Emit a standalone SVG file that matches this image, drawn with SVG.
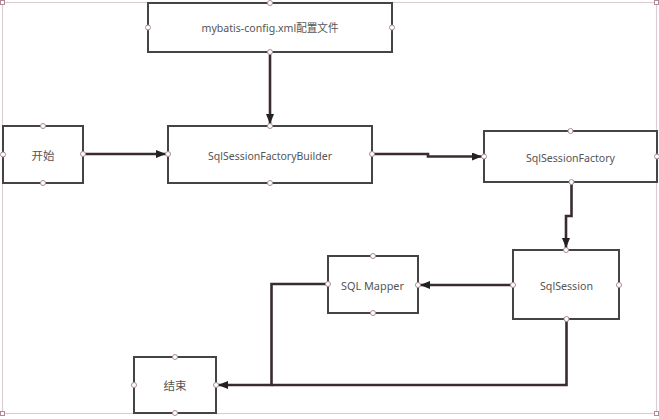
<svg xmlns="http://www.w3.org/2000/svg" width="659" height="419" viewBox="0 0 659 419">
<style>
.frame{fill:none;stroke:#dccdd1;stroke-width:1.2}
.corner{fill:#fff;stroke:#b08a94;stroke-width:1}
.box{fill:#fff;stroke:#444;stroke-width:2}
.lbl{font-family:"Noto Sans","Open Sans","Noto Sans CJK SC",sans-serif;font-size:11.5px;fill:#555;text-anchor:middle;dominant-baseline:central}
.h{fill:#fff;stroke:#a88a92;stroke-width:1}
.c{fill:none;stroke:#3a2c2e;stroke-width:2.6}
</style>
<defs>
<marker id="arr" viewBox="0 0 10 8" refX="10" refY="4" markerWidth="10" markerHeight="8" markerUnits="userSpaceOnUse" orient="auto">
<path d="M0,0 L10,4 L0,8 z" fill="#222"/>
</marker>
</defs>
<rect class="frame" x="2.5" y="2.5" width="654" height="411"/>
<g id="connectors">
<path class="c" d="M270,52 V124" marker-end="url(#arr)"/>
<path class="c" d="M83,154 H166" marker-end="url(#arr)"/>
<path class="c" d="M372,154 H428 V156.5 H482" marker-end="url(#arr)"/>
<path class="c" d="M571.5,182 V216 H566 V248" marker-end="url(#arr)"/>
<path class="c" d="M513,285 H420" marker-end="url(#arr)"/>
<path class="c" d="M328,284 H271.5 V385 H218" marker-end="url(#arr)"/>
<path class="c" d="M566.5,319 V385 H271.5"/>
</g>
<g id="config">
<rect class="box" x="148" y="3" width="244" height="49"/>
<text class="lbl" x="270" y="27.5" textLength="137" lengthAdjust="spacingAndGlyphs">mybatis-config.xml配置文件</text>
</g>
<g id="start">
<rect class="box" x="3" y="126" width="80" height="57"/>
<text class="lbl" x="43" y="155">开始</text>
</g>
<g id="builder">
<rect class="box" x="168" y="126" width="204" height="57"/>
<text class="lbl" x="270" y="155" textLength="124" lengthAdjust="spacingAndGlyphs">SqlSessionFactoryBuilder</text>
</g>
<g id="factory">
<rect class="box" x="484" y="131" width="173" height="51"/>
<text class="lbl" x="570.5" y="157" textLength="89" lengthAdjust="spacingAndGlyphs">SqlSessionFactory</text>
</g>
<g id="session">
<rect class="box" x="513" y="250" width="106" height="69"/>
<text class="lbl" x="566.5" y="285" textLength="53" lengthAdjust="spacingAndGlyphs">SqlSession</text>
</g>
<g id="mapper">
<rect class="box" x="328" y="256" width="90" height="57"/>
<text class="lbl" x="372.5" y="285" textLength="63" lengthAdjust="spacingAndGlyphs">SQL Mapper</text>
</g>
<g id="end">
<rect class="box" x="134" y="357" width="82" height="56"/>
<text class="lbl" x="175" y="385">结束</text>
</g>
<g id="handles">
<circle class="h" cx="270" cy="3" r="2.5"/><circle class="h" cx="148" cy="27.5" r="2.5"/><circle class="h" cx="392" cy="27.5" r="2.5"/><circle class="h" cx="270" cy="52" r="2.5"/>
<circle class="h" cx="43" cy="126" r="2.5"/><circle class="h" cx="3" cy="154.5" r="2.5"/><circle class="h" cx="83" cy="154" r="2.5"/><circle class="h" cx="43" cy="183" r="2.5"/>
<circle class="h" cx="270" cy="126" r="2.5"/><circle class="h" cx="168" cy="154" r="2.5"/><circle class="h" cx="372" cy="154" r="2.5"/><circle class="h" cx="270" cy="183" r="2.5"/>
<circle class="h" cx="570.5" cy="131" r="2.5"/><circle class="h" cx="484" cy="156.5" r="2.5"/><circle class="h" cx="657" cy="156.5" r="2.5"/><circle class="h" cx="571.5" cy="182" r="2.5"/>
<circle class="h" cx="566" cy="250" r="2.5"/><circle class="h" cx="513" cy="285" r="2.5"/><circle class="h" cx="619" cy="285" r="2.5"/><circle class="h" cx="566.5" cy="319" r="2.5"/>
<circle class="h" cx="373" cy="256" r="2.5"/><circle class="h" cx="328" cy="284" r="2.5"/><circle class="h" cx="418" cy="285" r="2.5"/><circle class="h" cx="373" cy="313" r="2.5"/>
<circle class="h" cx="175" cy="357" r="2.5"/><circle class="h" cx="134" cy="385" r="2.5"/><circle class="h" cx="216" cy="385" r="2.5"/><circle class="h" cx="175" cy="413" r="2.5"/>
</g>
<g id="frame-corners">
<rect class="corner" x="0.5" y="0.5" width="4" height="4"/><rect class="corner" x="654.5" y="0.5" width="4" height="4"/>
<rect class="corner" x="0.5" y="411.5" width="4" height="4"/><rect class="corner" x="654.5" y="411.5" width="4" height="4"/>
</g>
</svg>
